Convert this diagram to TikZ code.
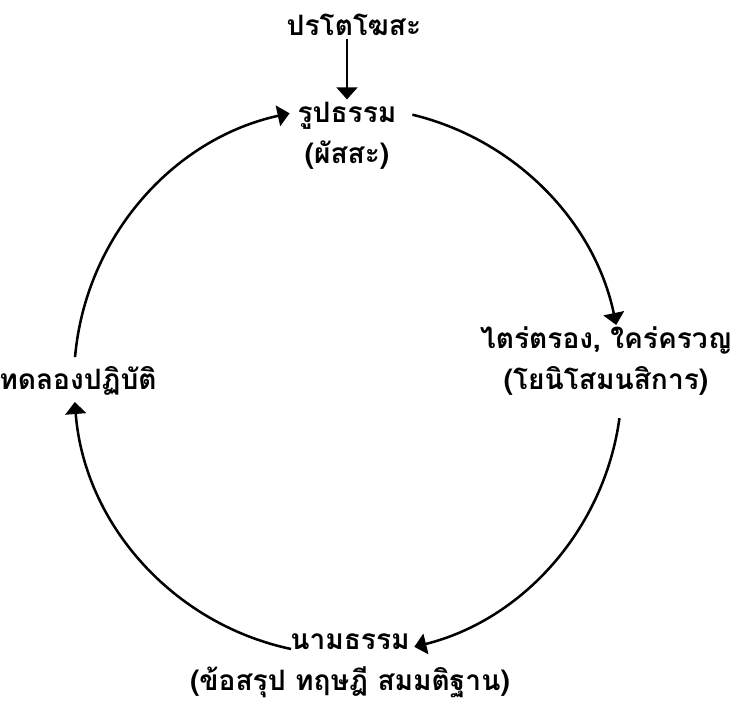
\documentclass[tikz,border=0pt]{standalone}
\usepackage{fontspec}
\newfontfamily\thaifont[Script=Thai]{Loma}
\usetikzlibrary{arrows.meta}

\begin{document}
\begin{tikzpicture}[
        stage/.style={
            align=center,
            inner sep=2pt,
            font=\thaifont\bfseries\fontsize{20}{29}\selectfont
        },
        cyc/.style={
            line width=1.8pt,
            -{Triangle[length=0.3cm, width=0.52cm]}
        }
    ]
        \useasboundingbox (0,0) rectangle (18.35,17.875);

        % stages of the cycle
        \node[stage] (pro) at (8.85,17.25) {ปรโตโฆสะ};
        \node[stage] (rupa) at (8.675,14.475) {รูปธรรม\\(ผัสสะ)};
        \node[stage] (think) at (15.15,8.85) {ไตร่ตรอง, ใคร่ครวญ\\(โยนิโสมนสิการ)};
        \node[stage] (nama) at (8.75,1.225) {นามธรรม\\(ข้อสรุป ทฤษฎี สมมติฐาน)};
        \node[stage] (test) at (1.95,8.35) {ทดลองปฏิบัติ};

        % circle through the stages
        \coordinate (c) at (8.70,8.35);
        \path (c) ++(76.4:6.85) coordinate (a1);
        \path (c) ++(-7.8:6.85) coordinate (a2);
        \path (c) ++(258:6.85) coordinate (a3);
        \path (c) ++(175:6.85) coordinate (a4);

        \draw[cyc] (rupa.north |- pro.south) -- (rupa.north);
        \draw[cyc] (a1) arc[start angle=76.4, end angle=11.8, radius=6.85];
        \draw[cyc] (a2) arc[start angle=-7.8, end angle=-76, radius=6.85];
        \draw[cyc] (a3) arc[start angle=258, end angle=184.4, radius=6.85];
        \draw[cyc] (a4) arc[start angle=175, end angle=102.3, radius=6.85];

    \end{tikzpicture}
\end{document}
